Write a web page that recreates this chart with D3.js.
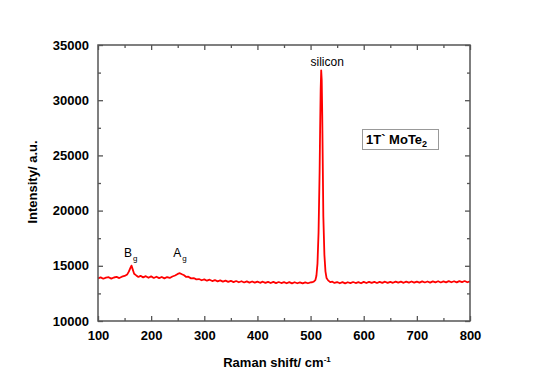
<!DOCTYPE html>
<html>
<head>
<meta charset="utf-8">
<script src="https://cdn.jsdelivr.net/npm/d3@7"></script>
<style>
  body { margin: 0; background: #fff; }
  svg { font-family: Arial, "Liberation Sans", sans-serif; }
</style>
</head>
<body>
<script>
// Raman shift (cm-1) and intensity
const shift = [100, 105, 110, 115, 120, 125, 130, 135, 140, 145, 150, 155, 158, 161, 163, 165, 168, 172, 176, 180,
  185, 190, 195, 200, 205, 210, 215, 220, 225, 230, 235, 240, 245, 250, 254, 258, 262, 266, 270, 275,
  280, 285, 290, 295, 300, 305, 310, 315, 320, 325, 330, 335, 340, 345, 350, 355, 360, 365, 370, 375,
  380, 385, 390, 395, 400, 405, 410, 415, 420, 425, 430, 435, 440, 445, 450, 455, 460, 465, 470, 475,
  480, 485, 490, 495, 500, 503, 506, 509, 511, 513, 515, 517, 518, 519, 520, 521, 522, 523, 524, 526,
  528, 530, 533, 537, 541, 545, 550, 555, 560, 565, 570, 575, 580, 585, 590, 595, 600, 605, 610, 615,
  620, 625, 630, 635, 640, 645, 650, 655, 660, 665, 670, 675, 680, 685, 690, 695, 700, 705, 710, 715,
  720, 725, 730, 735, 740, 745, 750, 755, 760, 765, 770, 775, 780, 785, 790, 795, 800]
const intensity = [13860, 13950, 13830, 13930, 13970, 13840, 13940, 13990, 13890, 14010, 14080, 14220, 14470, 14820, 15020, 14720, 14280, 14130, 13990, 14090,
  13950, 14060, 13920, 14040, 13900, 14010, 13880, 13990, 13860, 13980, 13900, 14030, 14120, 14260, 14330, 14230, 14140, 13990, 14010, 13860,
  13890, 13770, 13800, 13690, 13770, 13650, 13740, 13620, 13710, 13590, 13680, 13570, 13660, 13550, 13640, 13520, 13620, 13510, 13600, 13490,
  13590, 13480, 13580, 13470, 13570, 13460, 13560, 13450, 13550, 13440, 13540, 13430, 13530, 13440, 13520, 13420, 13520, 13410, 13510, 13420,
  13500, 13410, 13500, 13420, 13490, 13510, 13560, 13700, 14100, 15200, 18000, 23500, 27500, 31000, 32700, 31800, 28500, 24000, 19500, 16000,
  14500, 13900, 13680, 13520, 13560, 13450, 13530, 13420, 13520, 13410, 13510, 13430, 13530, 13440, 13520, 13420, 13540, 13440, 13550, 13450,
  13540, 13440, 13550, 13460, 13560, 13450, 13550, 13460, 13570, 13470, 13560, 13460, 13570, 13480, 13580, 13470, 13570, 13480, 13590, 13490,
  13580, 13480, 13590, 13500, 13600, 13490, 13590, 13500, 13610, 13510, 13600, 13500, 13610, 13520, 13620, 13510, 13580]

const xTicks = [100, 200, 300, 400, 500, 600, 700, 800]
const xMinor = [150, 250, 350, 450, 550, 650, 750]
const yTicks = [10000, 15000, 20000, 25000, 30000, 35000]
const yMinor = [12500, 17500, 22500, 27500, 32500]

const w = 546
const h = 386
const mLeft = 98, mRight = 470, mTop = 45, mBottom = 321

const svg = d3.select("body").append("svg")
  .attr("width", w)
  .attr("height", h)

const xScale = d3.scaleLinear().domain([100, 800]).range([mLeft, mRight])
const yScale = d3.scaleLinear().domain([10000, 35000]).range([mBottom, mTop])

// spectrum
const data = shift.map((s, i) => [s, intensity[i]])
const line = d3.line().x(d => xScale(d[0])).y(d => yScale(d[1]))
svg.append("path")
  .datum(data)
  .attr("d", line)
  .attr("fill", "none")
  .attr("stroke", "#ff0000")
  .attr("stroke-width", 1.8)
  .attr("stroke-linejoin", "round")

const frameColor = "#555"

function styleAxis(g) {
  g.select(".domain").remove()
  g.selectAll(".tick line").attr("stroke", frameColor).attr("stroke-width", 1.3)
  g.selectAll(".tick text")
    .attr("fill", "#000")
    .style("font-size", "13px")
    .style("font-weight", "bold")
}

// major ticks, pointing inward
svg.append("g")
  .attr("transform", "translate(0," + mBottom + ")")
  .call(d3.axisBottom(xScale).tickValues(xTicks).tickSize(-5).tickPadding(10).tickFormat(d3.format("d")))
  .call(styleAxis)
svg.append("g")
  .attr("transform", "translate(0," + mTop + ")")
  .call(d3.axisTop(xScale).tickValues(xTicks).tickSize(-5).tickFormat(""))
  .call(styleAxis)
svg.append("g")
  .attr("transform", "translate(" + mLeft + ",0)")
  .call(d3.axisLeft(yScale).tickValues(yTicks).tickSize(-5).tickPadding(9).tickFormat(d3.format("d")))
  .call(styleAxis)
svg.append("g")
  .attr("transform", "translate(" + mRight + ",0)")
  .call(d3.axisRight(yScale).tickValues(yTicks).tickSize(-5).tickFormat(""))
  .call(styleAxis)

// minor ticks
svg.append("g")
  .attr("transform", "translate(0," + mBottom + ")")
  .call(d3.axisBottom(xScale).tickValues(xMinor).tickSize(-3).tickFormat(""))
  .call(styleAxis)
svg.append("g")
  .attr("transform", "translate(0," + mTop + ")")
  .call(d3.axisTop(xScale).tickValues(xMinor).tickSize(-3).tickFormat(""))
  .call(styleAxis)
svg.append("g")
  .attr("transform", "translate(" + mLeft + ",0)")
  .call(d3.axisLeft(yScale).tickValues(yMinor).tickSize(-3).tickFormat(""))
  .call(styleAxis)
svg.append("g")
  .attr("transform", "translate(" + mRight + ",0)")
  .call(d3.axisRight(yScale).tickValues(yMinor).tickSize(-3).tickFormat(""))
  .call(styleAxis)

// frame
svg.append("rect")
  .attr("x", mLeft)
  .attr("y", mTop)
  .attr("width", mRight - mLeft)
  .attr("height", mBottom - mTop)
  .attr("fill", "none")
  .attr("stroke", frameColor)
  .attr("stroke-width", 1.5)

// axis titles
const xt = svg.append("text")
  .attr("x", 277)
  .attr("y", 367)
  .attr("text-anchor", "middle")
  .style("font-size", "13px")
  .style("font-weight", "bold")
xt.append("tspan").text("Raman shift/ cm")
xt.append("tspan").attr("dy", -5).style("font-size", "8px").text("-1")

svg.append("text")
  .attr("transform", "rotate(-90)")
  .attr("x", -182)
  .attr("y", 37)
  .attr("text-anchor", "middle")
  .style("font-size", "13px")
  .style("font-weight", "bold")
  .text("Intensity/ a.u.")

// peak labels
svg.append("text")
  .attr("x", xScale(520) + 6)
  .attr("y", 66)
  .attr("text-anchor", "middle")
  .style("font-size", "12px")
  .text("silicon")

function subLabel(x, y, main, sub) {
  const t = svg.append("text")
    .attr("x", x)
    .attr("y", y)
    .style("font-size", "12px")
  t.append("tspan").text(main)
  t.append("tspan").attr("dx", 1).attr("dy", 4).style("font-size", "8px").text(sub)
}
subLabel(xScale(160) - 6, 257, "B", "g")
subLabel(xScale(253) - 6, 257, "A", "g")

// sample label box
svg.append("rect")
  .attr("x", 362.5)
  .attr("y", 129.5)
  .attr("width", 76)
  .attr("height", 20)
  .attr("fill", "#fff")
  .attr("stroke", "#999")
  .attr("stroke-width", 1)
const bt = svg.append("text")
  .attr("x", 366)
  .attr("y", 144)
  .style("font-size", "13px")
  .style("font-weight", "bold")
bt.append("tspan").text("1T` MoTe")
bt.append("tspan").attr("dy", 3).style("font-size", "9px").text("2")
</script>
</body>
</html>
